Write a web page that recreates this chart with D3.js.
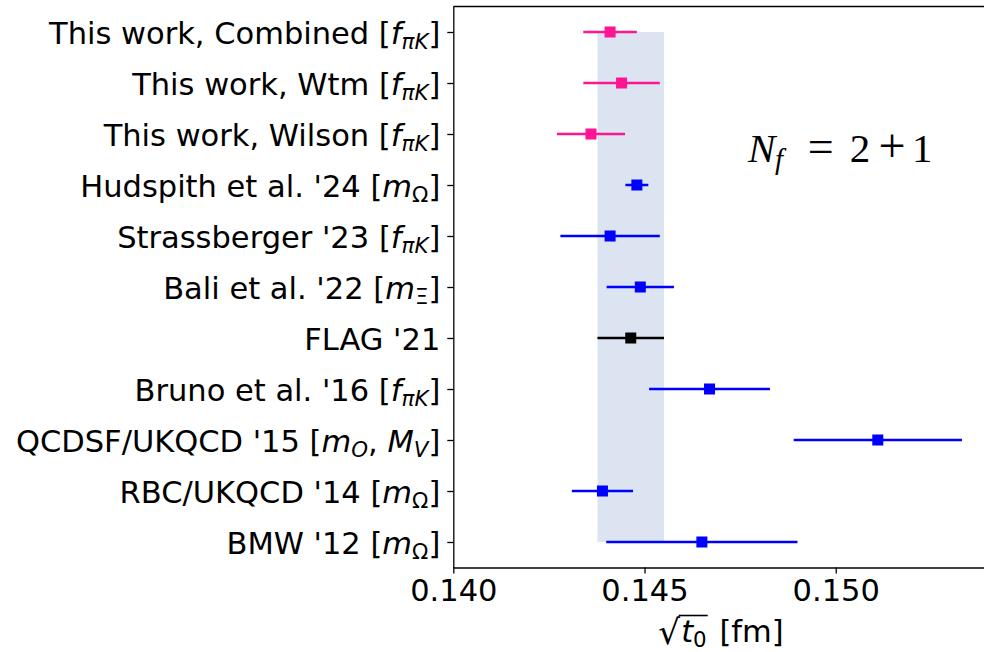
<!DOCTYPE html>
<html>
<head>
<meta charset="utf-8">
<script src="https://cdn.jsdelivr.net/npm/d3@7"></script>
<style>
  html, body { margin: 0; padding: 0; background: #fff; }
  svg { display: block; }
</style>
</head>
<body>
<script>
// ---------------- DATA ----------------
// Label segments: [text, style]  style: "" normal, "i" italic, "s" subscript, "is" italic subscript
const labels = [
  [["This work, Combined [", ""], ["f", "i"], ["πK", "is"], ["]", ""]],
  [["This work, Wtm [", ""], ["f", "i"], ["πK", "is"], ["]", ""]],
  [["This work, Wilson [", ""], ["f", "i"], ["πK", "is"], ["]", ""]],
  [["Hudspith et al. '24 [", ""], ["m", "i"], ["Ω", "s"], ["]", ""]],
  [["Strassberger '23 [", ""], ["f", "i"], ["πK", "is"], ["]", ""]],
  [["Bali et al. '22 [", ""], ["m", "i"], ["Ξ", "s"], ["]", ""]],
  [["FLAG '21", ""]],
  [["Bruno et al. '16 [", ""], ["f", "i"], ["πK", "is"], ["]", ""]],
  [["QCDSF/UKQCD '15 [", ""], ["m", "i"], ["O", "is"], [", ", ""], ["M", "i"], ["V", "is"], ["]", ""]],
  [["RBC/UKQCD '14 [", ""], ["m", "i"], ["Ω", "s"], ["]", ""]],
  [["BMW '12 [", ""], ["m", "i"], ["Ω", "s"], ["]", ""]]
];
const values = [0.14410, 0.14440, 0.14360, 0.14480, 0.14410, 0.14489, 0.14464, 0.14670, 0.15110, 0.14390, 0.14650];
const errors = [0.00070, 0.00100, 0.00089, 0.00030, 0.00130, 0.00088, 0.00087, 0.00158, 0.00220, 0.00080, 0.00250];
const groups = ["this", "this", "this", "other", "other", "other", "flag", "other", "other", "other", "other"];
const flagBand = [0.14377, 0.14551];
const xTicks = [0.140, 0.145, 0.150];
const xDomain = [0.140, 0.154];
const annotation = "N_f = 2+1";
const xLabel = "√t0 [fm]";

// ---------------- LAYOUT ----------------
const W = 984, H = 652;
const mLeft = 453.3, mRight = 988.7, mTop = 6.5, mBottom = 567.5;
const FS = 30.5;
const FONT = "DejaVu Sans";
const colorOf = { this: "#ff1493", other: "#0000ff", flag: "#000000" };

const svg = d3.select("body").append("svg")
  .attr("width", W).attr("height", H)
  .attr("viewBox", `0 0 ${W} ${H}`);

const x = d3.scaleLinear().domain(xDomain).range([mLeft, mRight]);
const y = d3.scaleLinear().domain([-0.5, labels.length - 0.5]).range([mTop, mBottom]);

// band (FLAG average)
svg.append("rect")
  .attr("x", x(flagBand[0]))
  .attr("width", x(flagBand[1]) - x(flagBand[0]))
  .attr("y", y(0))
  .attr("height", y(labels.length - 1) - y(0))
  .attr("fill", "#b0c4de")
  .attr("fill-opacity", 0.45);

// error bars
const pts = svg.append("g");
pts.selectAll("line.err").data(values).join("line")
  .attr("class", "err")
  .attr("x1", (d, i) => x(d - errors[i]))
  .attr("x2", (d, i) => x(d + errors[i]))
  .attr("y1", (d, i) => y(i))
  .attr("y2", (d, i) => y(i))
  .attr("stroke", (d, i) => colorOf[groups[i]])
  .attr("stroke-width", 2.5);

const MS = 11;
pts.selectAll("rect.mk").data(values).join("rect")
  .attr("class", "mk")
  .attr("x", d => x(d) - MS / 2)
  .attr("y", (d, i) => y(i) - MS / 2)
  .attr("width", MS).attr("height", MS)
  .attr("fill", (d, i) => colorOf[groups[i]]);

// axes
const xAxis = d3.axisBottom(x).tickValues(xTicks).tickFormat(d3.format(".3f"))
  .tickSize(6).tickSizeOuter(0).tickPadding(5.5);
const gx = svg.append("g").attr("transform", `translate(0,${mBottom})`).call(xAxis);
gx.selectAll("text").attr("font-family", FONT).attr("font-size", FS).attr("fill", "#000");

const yAxis = d3.axisLeft(y).tickValues(d3.range(labels.length)).tickFormat(() => "")
  .tickSize(6).tickSizeOuter(0);
const gy = svg.append("g").attr("transform", `translate(${mLeft},0)`).call(yAxis);

[gx, gy].forEach(g => {
  g.select(".domain").attr("stroke", "#000").attr("stroke-width", 1.3);
  g.selectAll(".tick line").attr("stroke", "#000").attr("stroke-width", 1.3);
});

// top spine
svg.append("line")
  .attr("x1", mLeft).attr("x2", mRight)
  .attr("y1", mTop).attr("y2", mTop)
  .attr("stroke", "#000").attr("stroke-width", 1.3);

// y labels with math-like formatting
const SUB = 0.7, SUBDY = 5;
labels.forEach((parts, i) => {
  const t = svg.append("text")
    .attr("x", mLeft - 13)
    .attr("y", y(i) + 11.5)
    .attr("text-anchor", "end")
    .attr("font-family", FONT)
    .attr("font-size", FS)
    .attr("fill", "#000");
  let inSub = false;
  parts.forEach(([txt, st]) => {
    const isSub = st.includes("s");
    const ts = t.append("tspan").text(txt);
    if (st.includes("i")) ts.attr("font-style", "italic");
    if (isSub) ts.attr("font-size", FS * SUB);
    if (isSub && !inSub) ts.attr("dy", SUBDY);
    if (!isSub && inSub) ts.attr("dy", -SUBDY);
    inSub = isSub;
  });
});

// annotation N_f = 2+1
const ann = svg.append("g")
  .attr("font-family", "Liberation Serif")
  .attr("font-size", 41)
  .attr("fill", "#000");
const annBase = 161.5;
ann.append("text").attr("x", 748).attr("y", annBase).attr("font-style", "italic").text(annotation.slice(0, 1));
ann.append("text").attr("x", 775).attr("y", annBase + 7).attr("font-style", "italic")
  .attr("font-size", 29).text(annotation.slice(2, 3));
ann.append("text").attr("x", 820.8).attr("y", annBase).attr("text-anchor", "middle")
  .attr("font-size", 46).text("=");
ann.append("text").attr("x", 860).attr("y", annBase).attr("text-anchor", "middle").text(annotation.slice(6, 7));
ann.append("text").attr("x", 892).attr("y", annBase).attr("text-anchor", "middle").attr("font-size", 48).text("+");
ann.append("text").attr("x", 922.3).attr("y", annBase).attr("text-anchor", "middle").text(annotation.slice(8, 9));

// x label: sqrt(t_0) [fm]
const xl = svg.append("text")
  .attr("x", (mLeft + mRight) / 2)
  .attr("y", 642)
  .attr("text-anchor", "middle")
  .attr("font-family", FONT)
  .attr("font-size", FS)
  .attr("fill", "#000");
xl.append("tspan").attr("font-size", FS * 1.12).attr("dy", 2).text(xLabel.slice(0, 1));
xl.append("tspan").attr("font-style", "italic").attr("dx", 1).attr("dy", -2).text(xLabel.slice(1, 2));
xl.append("tspan").attr("font-size", FS * SUB).attr("dy", 4.5).text(xLabel.slice(2, 3));
xl.append("tspan").attr("dy", -4.5).attr("dx", 3).text(xLabel.slice(3));
// overline of radical
const node = xl.node();
const e0 = node.getExtentOfChar(0);
const e2 = node.getExtentOfChar(2);
svg.append("line")
  .attr("x1", e0.x + e0.width - 1.5)
  .attr("x2", e2.x + e2.width + 1)
  .attr("y1", e0.y + 3.5)
  .attr("y2", e0.y + 3.5)
  .attr("stroke", "#000").attr("stroke-width", 1.6);
</script>
</body>
</html>
